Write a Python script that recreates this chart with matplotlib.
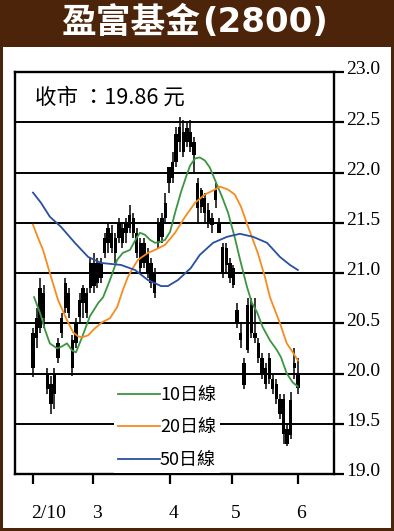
import numpy as np
import matplotlib
matplotlib.use('Agg')
import matplotlib.pyplot as plt
from matplotlib.patches import Rectangle
from matplotlib.transforms import ScaledTranslation

# daily candles, 2/10 -> 6/1
opens = [20.05, 20.35, 20.45, 20.80, 20.00, 19.90, 19.80, 20.15, 20.40, 20.65,
         20.80, 20.33, 20.30, 20.56, 20.70, 20.80, 20.85, 21.10, 20.90, 21.10,
         21.20, 21.30, 21.40, 21.20, 21.35, 21.45, 21.40, 21.45, 21.55, 21.40,
         21.30, 21.10, 21.20, 21.10, 20.80, 21.30, 21.36, 21.55, 21.90, 21.95,
         22.10, 22.30, 22.40, 22.30, 22.40, 22.30, 21.90, 21.66, 21.75, 21.63,
         21.55, 21.73, 21.50, 21.26, 21.08, 21.10, 21.05, 20.63, 20.40, 20.10,
         20.23, 20.68, 20.40, 20.30, 20.15, 20.05, 19.95, 19.95, 19.90, 19.75,
         19.75, 19.45, 19.39, 20.05, 20.00]
highs = [20.45, 20.65, 20.95, 20.88, 20.05, 19.98, 20.05, 20.35, 20.60, 20.95,
         20.85, 20.38, 20.55, 20.80, 20.88, 20.85, 21.15, 21.20, 21.15, 21.15,
         21.40, 21.50, 21.48, 21.40, 21.55, 21.50, 21.55, 21.68, 21.60, 21.45,
         21.35, 21.35, 21.25, 21.15, 21.05, 21.55, 21.60, 21.80, 22.05, 22.20,
         22.45, 22.55, 22.52, 22.50, 22.52, 22.35, 21.95, 21.85, 21.80, 21.70,
         21.60, 21.90, 21.55, 21.30, 21.30, 21.15, 21.08, 20.70, 20.50, 20.15,
         20.75, 20.75, 20.75, 20.35, 20.20, 20.10, 20.20, 20.00, 19.95, 19.80,
         19.80, 19.50, 19.82, 20.25, 20.15]
lows = [19.97, 20.25, 20.40, 20.45, 19.80, 19.60, 19.65, 20.10, 20.35, 20.60,
        20.55, 19.98, 20.25, 20.50, 20.55, 20.55, 20.80, 20.80, 20.85, 20.90,
        21.15, 21.20, 21.20, 21.10, 21.30, 21.25, 21.30, 21.40, 21.35, 21.15,
        21.00, 21.05, 20.95, 20.85, 20.75, 21.25, 21.30, 21.50, 21.80, 21.90,
        22.05, 22.20, 22.15, 22.25, 22.20, 22.00, 21.50, 21.60, 21.50, 21.45,
        21.40, 21.65, 21.40, 20.95, 21.00, 20.90, 20.85, 20.45, 20.25, 19.85,
        20.20, 20.35, 20.30, 20.10, 19.95, 19.85, 19.90, 19.80, 19.70, 19.55,
        19.30, 19.28, 19.35, 19.95, 19.80]
closes = [20.40, 20.55, 20.85, 20.55, 19.85, 19.70, 20.00, 20.30, 20.55, 20.90,
          20.60, 20.05, 20.50, 20.73, 20.85, 20.60, 21.10, 20.87, 21.10, 20.95,
          21.35, 21.45, 21.25, 21.35, 21.50, 21.30, 21.50, 21.58, 21.40, 21.20,
          21.05, 21.30, 21.00, 20.90, 21.00, 21.50, 21.55, 21.70, 22.05, 22.10,
          22.38, 22.45, 22.20, 22.44, 22.25, 22.17, 21.65, 21.83, 21.60, 21.50,
          21.48, 21.83, 21.40, 21.00, 21.25, 20.95, 20.88, 20.50, 20.33, 19.89,
          20.68, 20.40, 20.35, 20.15, 20.00, 19.90, 20.15, 19.85, 19.75, 19.60,
          19.40, 19.30, 19.74, 20.10, 19.86]

# moving averages: (day, price)
ma10_day = [0.3, 2.0, 3.4, 4.7, 6.7, 8.1, 9.5, 10.9, 12.0, 13.7, 15.9, 18.2, 19.6,
            21.5, 23.5, 25.1, 27.1, 29.1, 29.9, 31.3, 32.7, 34.1, 35.5, 36.9, 38.3,
            39.7, 41.3, 42.7, 43.9, 45.3, 46.6, 48.0, 49.4, 50.8, 52.8, 54.5, 56.4,
            57.8, 59.8, 61.2, 62.6, 64.2, 66.2, 68.2, 69.3, 70.9, 72.6, 74.0]
ma10_val = [20.76, 20.60, 20.43, 20.30, 20.25, 20.27, 20.30, 20.23, 20.21, 20.36,
            20.57, 20.70, 20.76, 20.93, 21.13, 21.20, 21.23, 21.36, 21.40, 21.38,
            21.33, 21.30, 21.31, 21.33, 21.41, 21.60, 21.80, 21.95, 22.07, 22.14,
            22.15, 22.12, 22.05, 21.93, 21.76, 21.60, 21.35, 21.14, 20.86, 20.70,
            20.61, 20.46, 20.33, 20.23, 20.16, 20.00, 19.91, 19.87]
ma20_day = [0, 1.4, 2.8, 4.7, 7.0, 9.5, 11.2, 12.6, 13.7, 15.4, 17.3, 19.3, 21.5,
            23.5, 25.1, 26.5, 27.9, 29.3, 32.1, 34.1, 36.9, 39.7, 42.5, 45.3, 48.0,
            50.8, 52.2, 54.5, 56.4, 58.1, 60.1, 62.8, 64.8, 66.2, 69.0, 70.9, 72.6, 74.0]
ma20_val = [21.48, 21.35, 21.23, 21.00, 20.73, 20.53, 20.41, 20.37, 20.36, 20.38,
            20.45, 20.51, 20.55, 20.66, 20.83, 20.96, 21.05, 21.13, 21.20, 21.23,
            21.28, 21.40, 21.56, 21.70, 21.78, 21.83, 21.86, 21.83, 21.78, 21.66,
            21.46, 21.20, 20.96, 20.76, 20.50, 20.30, 20.21, 20.13]
ma50_day = [0, 2.2, 4.7, 7.8, 11.7, 15.4, 19.0, 24.6, 28.5, 32.1, 35.8, 37.7, 40.5,
            44.1, 46.6, 50.3, 54.2, 57.8, 61.5, 65.4, 69.0, 71.8, 74.0]
ma50_val = [21.80, 21.70, 21.56, 21.46, 21.30, 21.16, 21.10, 21.08, 21.03, 20.93,
            20.87, 20.87, 20.93, 21.05, 21.18, 21.30, 21.36, 21.39, 21.36, 21.30,
            21.16, 21.08, 21.03]

tick_pos = [0, 16.8, 38.3, 55.6, 74.0]
tick_labels = ['2/10', '3', '4', '5', '6']
y_ticks = [19.0, 19.5, 20.0, 20.5, 21.0, 21.5, 22.0, 22.5, 23.0]

brown = '#4b2409'
cjk = ['Noto Sans CJK TC', 'DejaVu Sans']
serif = 'Liberation Serif'

W, H = 394, 531
fig = plt.figure(figsize=(W / 100, H / 100), dpi=100)
fig.patch.set_facecolor(brown)
fig.add_artist(Rectangle((3 / W, 3 / H), 388 / W, 481 / H, transform=fig.transFigure,
                         facecolor='white', edgecolor='none', zorder=0))

ax = fig.add_axes([15 / W, (H - 474) / H, 319 / W, 402 / H])
ax.set_xlim(-5.03, 84.1)
ax.set_ylim(19, 23)

ax.set_yticks(y_ticks)
ax.set_yticklabels(['%.1f' % v for v in y_ticks])
ax.grid(axis='y', color='black', lw=1.4, zorder=1)
ax.yaxis.tick_right()
ax.tick_params(axis='y', direction='out', length=7, width=1.6, pad=2, labelsize=14)
ax.set_xticks(tick_pos)
ax.set_xticklabels(tick_labels)
ax.tick_params(axis='x', direction='out', length=7, width=1.6, pad=15, labelsize=14)
up = ScaledTranslation(0, 3 / 72, fig.dpi_scale_trans)
for lab in ax.get_yticklabels():
    lab.set_family(serif)
    lab.set_transform(lab.get_transform() + up)
for lab in ax.get_xticklabels():
    lab.set_family(serif)
    lab.set_ha('left')
    lab.set_transform(lab.get_transform() + ScaledTranslation(-1 / 72, 0, fig.dpi_scale_trans))
for s in ax.spines.values():
    s.set_linewidth(1.7)

# candles
o = np.array(opens)
c = np.array(closes)
x = np.arange(len(o))
ax.vlines(x, lows, highs, color='black', lw=1.1, zorder=3)
ax.bar(x, np.maximum(np.abs(c - o), 0.03), bottom=np.minimum(o, c), width=0.95,
       color='black', zorder=3)

l10, = ax.plot(ma10_day, ma10_val, color='#3a9640', lw=1.3, zorder=4, label='10日線')
l20, = ax.plot(ma20_day, ma20_val, color='#f68b1f', lw=1.3, zorder=4, label='20日線')
l50, = ax.plot(ma50_day, ma50_val, color='#2a4fa0', lw=1.3, zorder=4, label='50日線')

leg = ax.legend(handles=[l10, l20, l50], loc='upper left', bbox_to_anchor=(0.31, 0.23),
                frameon=True, facecolor='white', edgecolor='none', framealpha=1,
                fancybox=False, prop={'family': cjk, 'size': 13},
                handlelength=2.3, handletextpad=0.0, labelspacing=0.8,
                borderpad=0.25, borderaxespad=0)
leg.set_zorder(6)

fig.text(35 / W, 1 - 98 / H, '收市 ：19.86 元', family=cjk, fontsize=15.5,
         va='center', ha='left')

fig.text(201 / W, 1 - 23 / H, '盈富基金', family='Noto Sans CJK TC', fontweight='heavy',
         fontsize=25, color='white', ha='right', va='center')
fig.text(202 / W, 1 - 23 / H, '(2800)', family='DejaVu Sans', fontweight='bold',
         fontsize=24.5, color='white', ha='left', va='center')

fig.savefig('out.png', dpi=100, facecolor=fig.get_facecolor())
